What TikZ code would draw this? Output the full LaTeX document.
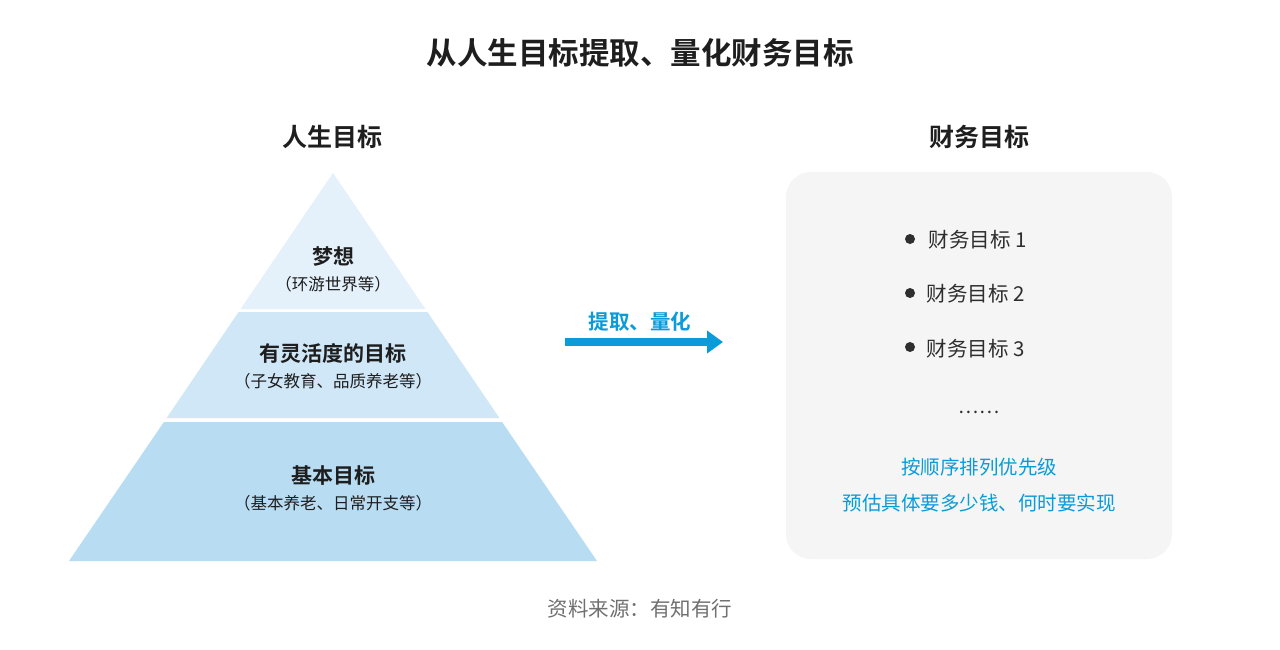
\documentclass[tikz,border=0pt]{standalone}
\usepackage{fontspec}
\setmainfont{Noto Sans CJK SC}[BoldFont={Noto Sans CJK SC Bold}]
\usetikzlibrary{arrows.meta}
\definecolor{band1}{HTML}{E4F1FB}
\definecolor{band2}{HTML}{D0E7F7}
\definecolor{band3}{HTML}{B8DDF3}
\definecolor{boxbg}{HTML}{F5F5F5}
\definecolor{txtdark}{HTML}{1E1E1E}
\definecolor{txtgray}{HTML}{2E2E2E}
\definecolor{accent}{HTML}{0A9BD8}
\definecolor{srcgray}{HTML}{707070}
\tikzset{
  title/.style={font=\fontsize{30.5}{34}\selectfont\bfseries, text=txtdark},
  header/.style={font=\fontsize{25}{28}\selectfont\bfseries, text=txtdark},
  tierlabel/.style={font=\fontsize{21}{24}\selectfont\bfseries, text=txtdark},
  tiersub/.style={font=\fontsize{16.5}{19}\selectfont, text=txtdark},
  goal/.style={font=\fontsize{20.5}{23}\selectfont, text=txtgray, anchor=west},
  note/.style={font=\fontsize{19.5}{22}\selectfont, text=accent},
  bulletdot/.style={circle, fill=txtgray, inner sep=0pt, minimum size=10pt},
}
\begin{document}
\begin{tikzpicture}[x=1pt,y=-1pt]
\useasboundingbox (0,0) rectangle (1280,649);
\fill[white] (0,0) rectangle (1280,649);

\node[title] (title) at (640,53) {从人生目标提取、量化财务目标};

% pyramid
\fill[band1] (333,173) -- (425.4,309) -- (240.6,309) -- cycle;
\fill[band2] (238.6,312) -- (427.4,312) -- (499.4,418) -- (166.6,418) -- cycle;
\fill[band3] (163.9,422) -- (502.1,422) -- (597,561) -- (69,561) -- cycle;

\node[header] (lefthead) at (332,137) {人生目标};
\node[tierlabel] (t1) at (333,257) {梦想};
\node[tiersub] (t1s) at (333,284) {（环游世界等）};
\node[tierlabel] (t2) at (333,354) {有灵活度的目标};
\node[tiersub] (t2s) at (333,381) {（子女教育、品质养老等）};
\node[tierlabel] (t3) at (333,476) {基本目标};
\node[tiersub] (t3s) at (333,503) {（基本养老、日常开支等）};

% arrow
\coordinate (astart) at (565,342);
\coordinate (aend) at (723,342);
\draw[accent, line width=7.5pt, -{Triangle[length=16pt,width=22pt]}] (astart) -- (aend);
\node[font=\fontsize{20.5}{23}\selectfont\bfseries, text=accent] (alabel) at (640,322) {提取、量化};

% right box
\node[header] (righthead) at (979,137) {财务目标};
\fill[boxbg, rounded corners=25pt] (786,172) rectangle (1172,559);

\node[bulletdot] (d1) at (910,239) {};
\node[goal] (g1) at (925,240) {财务目标 1};
\node[bulletdot] (d2) at (910,293) {};
\node[goal] (g2) at (923,294) {财务目标 2};
\node[bulletdot] (d3) at (910,347) {};
\node[goal] (g3) at (923,349) {财务目标 3};
\node[font=\fontsize{19}{20}\selectfont, text=txtgray] (dots) at (979,412) {……};

\node[note] (n1) at (979,467) {按顺序排列优先级};
\node[note] (n2) at (979,503) {预估具体要多少钱、何时要实现};

\node[font=\fontsize{20.5}{23}\selectfont, text=srcgray] (src) at (640,609) {资料来源：有知有行};
\end{tikzpicture}
\end{document}
